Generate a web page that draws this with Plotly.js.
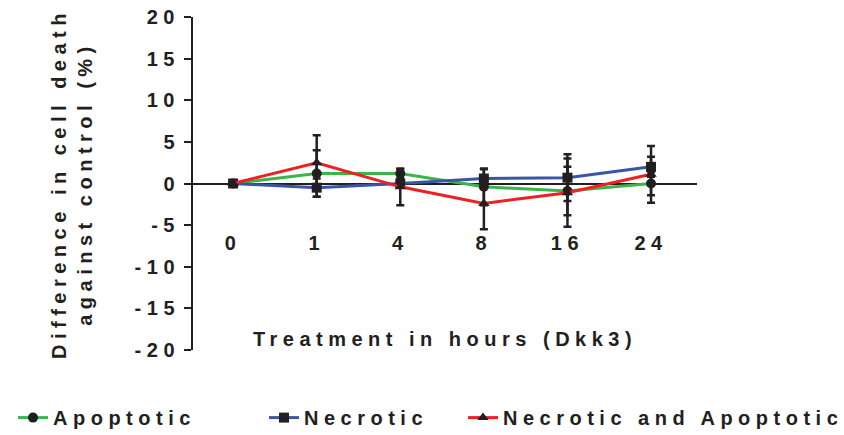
<!DOCTYPE html>
<html>
<head>
<meta charset="utf-8">
<script src="https://cdn.plot.ly/plotly-3.0.1.min.js"></script>
<style>
  html, body { margin: 0; padding: 0; background: #fff; }
  #chart { width: 844px; height: 435px; }
  /* widely tracked typography (applies to Plotly's text measurer too) */
  svg text { letter-spacing: 5.5px; }
</style>
</head>
<body>
<div id="chart"></div>
<script>
// Treatment time points (hours, Dkk3)
const hours = ['0', '1', '4', '8', '16', '24'];

// Difference in cell death against control (%), mean and error
const apoptotic = [0, 1.2, 1.2, -0.4, -0.9, 0.0];
const apoptoticErr = [0.3, 2.8, 0.5, 2.2, 2.9, 1.4];

const necrotic = [0, -0.5, 0.0, 0.6, 0.7, 2.0];
const necroticErr = [0.3, 1.1, 0.4, 1.1, 2.8, 1.2];

const necApo = [0, 2.5, -0.4, -2.4, -1.1, 1.1];
const necApoErr = [0.3, 3.3, 2.2, 3.1, 4.1, 3.4];

// y-axis ticks and their printed labels (plain hyphen for negatives)
const yTicks = [-20, -15, -10, -5, 0, 5, 10, 15, 20];
const yTickLabels = ['-20', '-15', '-10', '-5', '0', '5', '10', '15', '20'];

const ink = '#231f20';
const fontBase = { family: 'Liberation Sans', size: 20, color: ink };
const bold = s => '<b>' + s + '</b>';

function series(name, y, err, color, symbol, legendId) {
  return {
    type: 'scatter', mode: 'lines+markers', name: bold(name),
    x: hours, y: y, legend: legendId,
    line: { color: color, width: 3 },
    marker: { color: ink, symbol: symbol, size: 10 },
    error_y: { type: 'data', array: err, visible: true, color: ink, thickness: 2.5, width: 4 },
    cliponaxis: false
  };
}

const traces = [
  series('Apoptotic', apoptotic, apoptoticErr, '#39b54a', 'circle', 'legend'),
  series('Necrotic', necrotic, necroticErr, '#3b55a5', 'square', 'legend2'),
  series('Necrotic and Apoptotic', necApo, necApoErr, '#ed2024', 'triangle-up', 'legend3')
];

const legendCommon = {
  orientation: 'h', xref: 'container', yref: 'container',
  yanchor: 'middle', y: 0.04, xanchor: 'left',
  font: fontBase, bgcolor: 'rgba(0,0,0,0)', itemwidth: 30
};

const layout = {
  width: 844, height: 435,
  margin: { l: 193, r: 147, t: 17, b: 85, autoexpand: false },
  paper_bgcolor: '#fff', plot_bgcolor: '#fff',
  font: fontBase,
  xaxis: {
    type: 'category', range: [-0.48, 5.55],
    tickvals: hours, ticktext: hours.map(bold),
    anchor: 'free', position: 0.362, automargin: false,
    showline: false, showgrid: false, zeroline: false, ticks: '',
    tickfont: fontBase,
    title: { text: bold('Treatment in hours (Dkk3)'), font: fontBase, standoff: 78 }
  },
  yaxis: {
    range: [-20, 20], tickvals: yTicks, ticktext: yTickLabels.map(bold),
    automargin: false,
    showline: true, linecolor: ink, linewidth: 2,
    ticks: 'outside', ticklen: 7, tickwidth: 2, tickcolor: ink,
    showgrid: false, zeroline: true, zerolinecolor: ink, zerolinewidth: 2,
    tickfont: fontBase,
    title: { text: bold('Difference in cell death') + '<br>' + bold('against control (%)'), font: fontBase, standoff: 37 }
  },
  legend: Object.assign({}, legendCommon, { x: 13 / 844 }),
  legend2: Object.assign({}, legendCommon, { x: 264 / 844 }),
  legend3: Object.assign({}, legendCommon, { x: 463 / 844 }),
  showlegend: true
};

Plotly.newPlot('chart', traces, layout, { displayModeBar: false, staticPlot: true });
</script>
</body>
</html>
